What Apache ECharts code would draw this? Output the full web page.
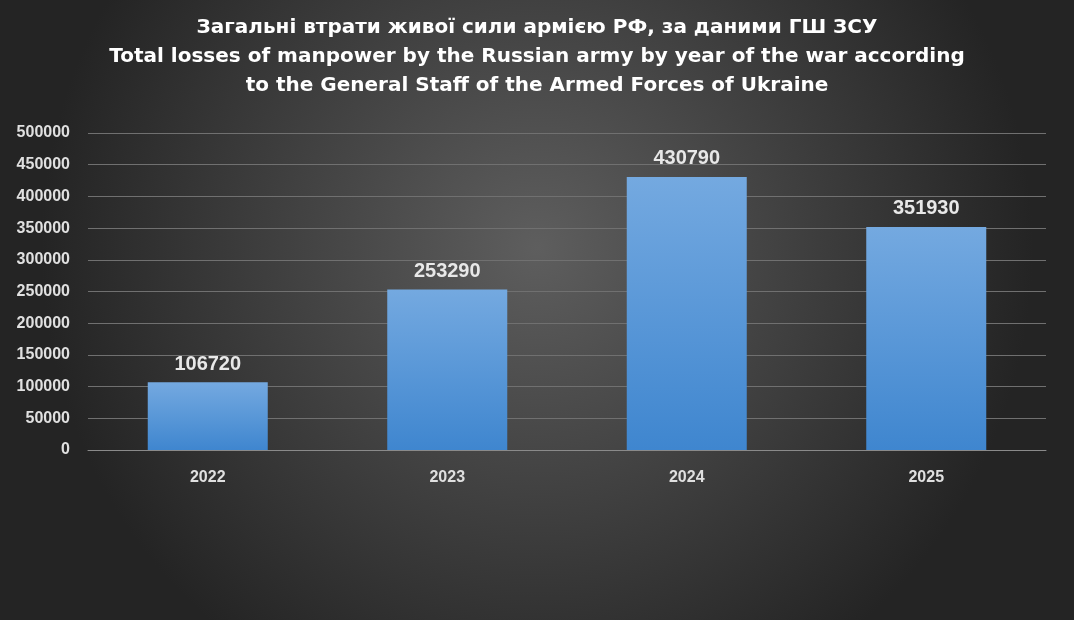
<!DOCTYPE html>
<html><head><meta charset="utf-8">
<script src="https://cdn.jsdelivr.net/npm/echarts@6/dist/echarts.min.js"></script>
<style>html,body{margin:0;padding:0;}#c{width:1074px;height:620px;}</style>
</head><body><div id="c"></div>
<script>
const categories = ['2022','2023','2024','2025'];
const losses = [106720, 253290, 430790, 351930];
const yTicks = {min:0, max:500000, interval:50000};
const titleText = 'Загальні втрати живої сили армією РФ, за даними ГШ ЗСУ\nTotal losses of manpower by the Russian army by year of the war according\nto the General Staff of the Armed Forces of Ukraine';
const chart = echarts.init(document.getElementById('c'));
chart.setOption({
  backgroundColor: new echarts.graphic.RadialGradient(0.5,0.4,0.8,[{offset:0,color:'#5e5e5e'},{offset:1,color:'#242424'}]),
  title:{text:titleText,left:'center',top:8,textStyle:{color:'#ffffff',fontSize:20,fontWeight:'bold',fontFamily:'DejaVu Sans',lineHeight:29}},
  grid:{left:88,right:28,top:133,bottom:170},
  xAxis:{type:'category',data:categories,axisTick:{show:false},axisLine:{lineStyle:{color:'#8a8a8a'}},
    axisLabel:{color:'#e0e0e0',fontSize:16,fontWeight:'bold',fontFamily:'Liberation Sans',margin:20}},
  yAxis:{type:'value',min:yTicks.min,max:yTicks.max,interval:yTicks.interval,
    axisLabel:{color:'#e0e0e0',fontSize:16,fontWeight:'bold',fontFamily:'Liberation Sans',margin:18,formatter:v=>String(v)},
    splitLine:{lineStyle:{color:'#707070'}},axisLine:{show:false}},
  series:[{type:'bar',data:losses,barWidth:120,
    itemStyle:{color:new echarts.graphic.LinearGradient(0,0,0,1,[{offset:0,color:'#74a9e0'},{offset:1,color:'#3f86cf'}])},
    label:{show:true,position:'top',color:'#e8e8e8',fontSize:20,fontWeight:'bold',fontFamily:'Liberation Sans',distance:8}}]
});
</script></body></html>
